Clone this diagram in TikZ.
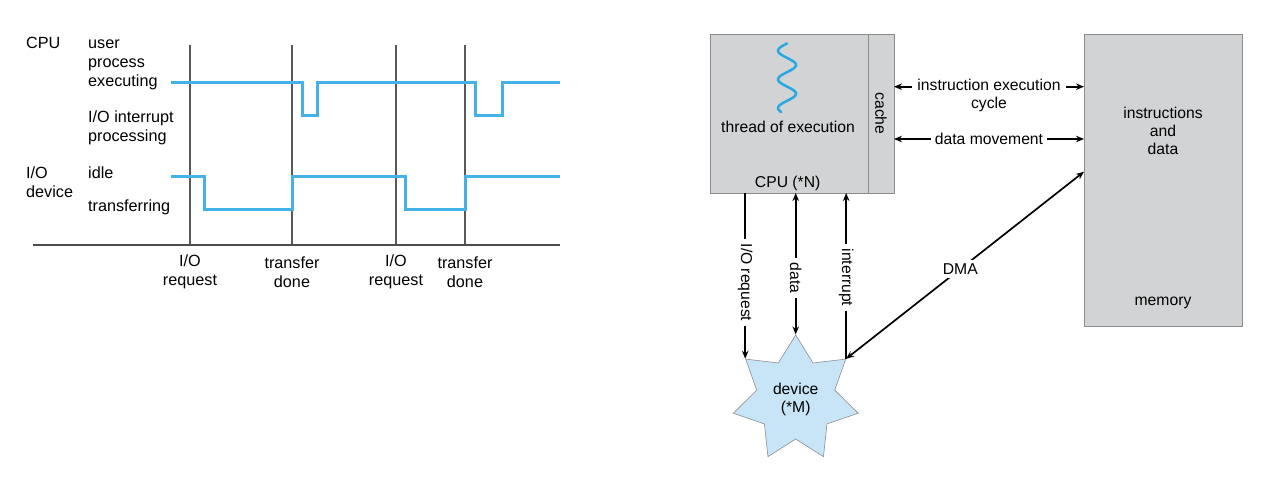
\documentclass[tikz,border=0pt]{standalone}
\usepackage{fontspec}
\setmainfont{Liberation Sans}
\usetikzlibrary{arrows.meta}
\usetikzlibrary{shapes,positioning}
\tikzset{>={Stealth[length=8pt,width=6.5pt]}}
\colorlet{background}{white}
\definecolor{penColor}{RGB}{68,178,230}
\definecolor{waveColor}{RGB}{40,168,226}
\definecolor{fill1}{RGB}{210,211,213}
\definecolor{fill2}{RGB}{200,229,247}
\colorlet{edgeColor}{black!45}
\colorlet{gridColor}{black!65}

\begin{document}
\begin{tikzpicture}[x=1pt,y=-1pt,
    lbl/.style={inner sep=0pt,align=left,font=\fontsize{16.2}{18.8}\selectfont},
    tick/.style={inner sep=0pt,align=center,font=\fontsize{16.2}{18.5}\selectfont},
    txt/.style={inner sep=0pt,align=center,font=\fontsize{15.7}{18}\selectfont},
    box/.style={draw=edgeColor,fill=fill1,line width=0.8pt,inner sep=0pt,outer sep=0pt},
    signal/.style={penColor,line width=3pt},
    conn/.style={line width=1.7pt}]
  \useasboundingbox (0,0) rectangle (1278,486);
  % timing chart
  \node[lbl,anchor=west] (cpuLbl) at (26,43) {CPU};
  \node[lbl,anchor=west] (userLbl) at (88,65) {user\\process\\executing};
  \node[lbl,anchor=west] (intLbl) at (88,128) {I/O interrupt\\processing};
  \node[lbl,anchor=west] (devLbl) at (26,182.5) {I/O\\device};
  \node[lbl,anchor=west] (idleLbl) at (88,173) {idle};
  \node[lbl,anchor=west] (xferLbl) at (88,207) {transferring};
  \foreach \x in {190,292,396,465}
    \draw[gridColor,line width=1.3pt] (\x,45) -- (\x,245);
  \draw[black!70,line width=2pt] (33,245) -- (560,245);
  \draw[signal] (171,82.3) -- (302.7,82.3) -- (302.7,116) -- (317.3,116) -- (317.3,82.3)
    -- (475,82.3) -- (475,116) -- (502.3,116) -- (502.3,82.3) -- (560,82.3);
  \draw[signal] (171,176.7) -- (204,176.7) -- (204,210) -- (292,210) -- (292,176.7)
    -- (405.7,176.7) -- (405.7,210) -- (465,210) -- (465,176.7) -- (560,176.7);
  \node[tick] (req1) at (190,272) {I/O\\request};
  \node[tick] (done1) at (292,272) {transfer\\done};
  \node[tick] (req2) at (396,272) {I/O\\request};
  \node[tick] (done2) at (465,272) {transfer\\done};
  % system
  \node[box,minimum width=158pt,minimum height=159pt] (cpu) at (789,113.5) {};
  \node[box,right=0pt of cpu,minimum width=26pt,minimum height=159pt] (cache) {};
  \node[txt,rotate=-90] (cacheLbl) at (cache.center) {cache};
  \draw[waveColor,line width=2.5pt,line cap=round]
    plot[domain=0:68.5,samples=80,smooth] ({787-9*sin(12.544*\x)},{43.5+\x});
  \node[txt] (thread) at (788,126.7) {thread of execution};
  \node[txt] (cpuN) at (787.7,183) {CPU (*N)};
  \node[box,minimum width=158pt,minimum height=292pt] (mem) at (1163,180) {};
  \node[txt] (instr) at (1163,130.5) {instructions\\and\\data};
  \node[txt] (memLbl) at (1163,303) {memory};
  \coordinate (cycY) at (989,86.7);
  \coordinate (dmaY) at (1084,171.7);
  \node[txt,inner xsep=5pt] (cycle) at (989,95) {instruction execution\\cycle};
  \draw[conn,<-] (cache.east |- cycY) -- (cycle.west |- cycY);
  \draw[conn,->] (cycle.east |- cycY) -- (mem.west |- cycY);
  \node[txt,inner xsep=4pt] (move) at (989,139) {data movement};
  \draw[conn,<-] (cache.east |- move) -- (move);
  \draw[conn,->] (move) -- (mem.west |- move);
  \node[txt,draw=edgeColor,fill=fill2,line width=0.6pt,star,star points=7,
    star point ratio=1.6,minimum size=128pt] (device) at (795.7,399) {device\\(*M)};
  \draw[conn,->] (cpu.south -| device.outer point 2) -- (device.outer point 2)
    node[txt,pos=0.54,fill=white,inner sep=5pt,rotate=-90] {I/O request};
  \draw[conn,<->] (cpu.south -| device.north) -- (device.north)
    node[txt,pos=0.6,fill=white,inner sep=5pt,rotate=-90] {data};
  \draw[conn,->] (device.outer point 7) -- (cpu.south -| device.outer point 7)
    node[txt,pos=0.49,fill=white,inner sep=5pt,rotate=-90] {interrupt};
  \draw[conn,<->] (device.outer point 7) -- (mem.west |- dmaY)
    node[txt,pos=0.48,fill=white,inner sep=4pt] {DMA};
\end{tikzpicture}
\end{document}
